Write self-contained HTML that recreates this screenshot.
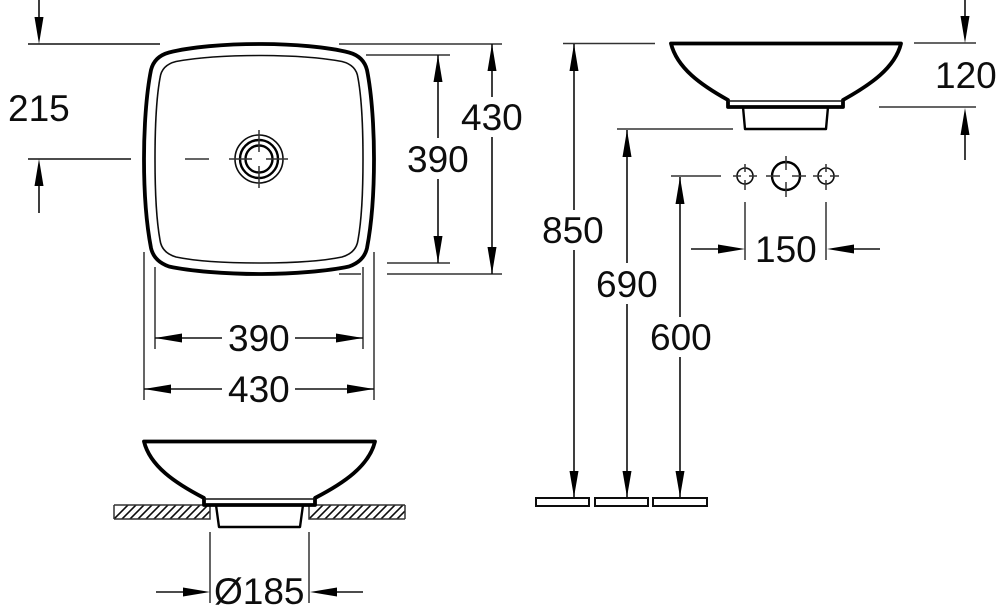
<!DOCTYPE html>
<html><head><meta charset="utf-8"><style>
html,body{margin:0;padding:0;background:#fff;width:1000px;height:615px;overflow:hidden}
svg{display:block}
text{font-family:"Liberation Sans",sans-serif;font-size:37px;fill:#111}
.t{fill:none;stroke:#111;stroke-width:1.6}
.g{fill:none;stroke:#333;stroke-width:1.5}
.k{fill:none;stroke:#000;stroke-width:2.4;stroke-linejoin:round}
.h{fill:none;stroke:#000;stroke-width:3.8;stroke-linejoin:round;stroke-linecap:round}
.a{fill:#000;stroke:none}
.w{fill:#fff;stroke:#111;stroke-width:2}
</style></head><body>
<svg width="1000" height="615" viewBox="0 0 1000 615" xmlns="http://www.w3.org/2000/svg">
<defs><clipPath id="c1"><rect x="114" y="505" width="96" height="14"/></clipPath><clipPath id="c2"><rect x="309" y="505" width="96" height="14"/></clipPath>
<filter id="b" x="0" y="0" width="100%" height="100%"><feGaussianBlur stdDeviation="0.35"/></filter></defs>
<g filter="url(#b)">
<!-- top view -->
<path class="h" d="M259 44C225 44 190 47 169 52.500C158 55.500 153 62 151 70C146 95 144 130 144 159C144 190 146 222 151 248C153 257 159 263 169 266.500C190 271 225 274 259 274C293 274 328 271 349 266.500C359 263 365 257 367 248C372 222 374 190 374 159C374 130 372 95 367 70C365 62 360 55.500 349 52.500C328 47 293 44 259 44Z"/>
<path class="t" d="M259 55.500C225 55.500 195 58 176 61.500C166 64 161 70 160 78C156 100 155 130 155 159C155 190 156 218 160 240C161 248 166 254 176 257C195 261 225 263 259 263C293 263 323 261 342 257C352 254 357 248 358 240C362 218 363 190 363 159C363 130 362 100 358 78C357 70 352 64 342 61.500C323 58 293 55.500 259 55.500Z"/>
<circle class="t" cx="259" cy="159" r="24"/>
<circle class="k" cx="259" cy="159" r="19" stroke-width="2.2"/>
<circle class="k" cx="259" cy="159" r="13.500" stroke-width="3"/>
<path class="g" d="M229 159H252M266 159H288M259 130V152M259 166V188M185 159H209"/>

<!-- 215 -->
<path class="t" d="M39 0V20M28 44H160M28 159H131M39 184V213"/>
<path class="a" d="M39 44L34.500 17H43.500ZM39 159L34.500 186H43.500Z"/>
<text x="8" y="121">215</text>

<!-- right of top view -->
<path class="g" d="M339 44H502M366 55H450M387 263H450M387 274H502M339 274H361"/>
<path class="t" d="M438 55V138M438 179V263M492 44V97M492 137V274"/>
<path class="a" d="M438 55L433.500 82H442.500ZM438 263L433.500 236H442.500ZM492 44L487.500 71H496.500ZM492 274L487.500 247H496.500Z"/>
<text x="461" y="130">430</text>
<text x="407" y="172">390</text>

<!-- below top view -->
<path class="g" d="M144 252V400M374 252V400M155 267V349M363 267V349"/>
<path class="t" d="M155 338H222M295 338H363M144 389H222M295 389H374"/>
<path class="a" d="M155 338L182 333.500V342.500ZM363 338L336 333.500V342.500ZM144 389L171 384.500V393.500ZM374 389L347 384.500V393.500Z"/>
<text x="228" y="351">390</text>
<text x="228" y="402">430</text>

<!-- front section -->
<g clip-path="url(#c1)"><path class="t" stroke-width="1.2" d="M104 529L134 499M112 529L142 499M120 529L150 499M128 529L158 499M136 529L166 499M144 529L174 499M152 529L182 499M160 529L190 499M168 529L198 499M176 529L206 499M184 529L214 499M192 529L222 499M200 529L230 499"/></g>
<g clip-path="url(#c2)"><path class="t" stroke-width="1.2" d="M299 529L329 499M307 529L337 499M315 529L345 499M323 529L353 499M331 529L361 499M339 529L369 499M347 529L377 499M355 529L385 499M363 529L393 499M371 529L401 499M379 529L409 499M387 529L417 499M395 529L425 499"/></g>
<path class="g" stroke-width="1.800" d="M114 505H206M114 519H210V505M405 505H313M405 519H309V505M114 505V519M405 505V519"/>
<path class="h" stroke-width="3" d="M144 441.500H375C369 466 344 483 315 498V505H204V498C175 483 150 466 144 441.500Z"/>
<path class="t" stroke-width="2" d="M204 499H315"/>
<path class="k" stroke-width="2.200" d="M216 505L219 527H300L303 505"/>
<path class="g" d="M210 532V603M309 532V603"/>
<path class="t" d="M156 592H184M336 592H363"/>
<path class="a" d="M210 592L183 587.500V596.500ZM310 592L337 587.500V596.500Z"/>
<text x="214" y="604">Ø185</text>

<!-- side view -->
<path class="g" d="M563 43.500H655M617 129H733M671 176H721"/>
<path class="h" stroke-width="3" d="M671 43.500H901C895 68 870 85 843 100V107H728V100C701 85 677 68 671 43.500Z"/>
<path class="t" stroke-width="2" d="M728 101H843"/>
<path class="k" stroke-width="2.200" d="M743 107L745 129H826L828 107"/>

<!-- 120 -->
<path class="g" d="M914 43H976M879 107H976"/>
<path class="t" d="M965 0V20M965 130V160"/>
<path class="a" d="M965 43L960.500 16H969.500ZM965 108L960.500 135H969.500Z"/>
<text x="935" y="88">120</text>

<!-- holes -->
<circle class="t" cx="745" cy="176" r="8"/>
<circle class="k" cx="786" cy="176" r="14" stroke-width="2.800"/>
<circle class="t" cx="826" cy="176" r="8"/>
<path class="g" d="M733 176H741M749 176H757M745 164V172M745 180V190M766 176H780M792 176H806M786 156V170M786 182V197M813 176H822M830 176H839M826 164V172M826 180V190"/>
<path class="g" d="M745 202V260M826 202V260"/>
<path class="t" d="M691 249H720M853 249H880"/>
<path class="a" d="M745 249L718 244.500V253.500ZM827 249L854 244.500V253.500Z"/>
<text x="755" y="262">150</text>

<!-- heights -->
<path class="t" d="M574 44V210M574 250V497M627 130V263M627 304V497M680 177V317M680 357V497"/>
<path class="a" d="M574 44L569.500 71H578.500ZM574 497L569.500 471H578.500ZM627 130L622.500 157H631.500ZM627 497L622.500 471H631.500ZM680 177L675.500 204H684.500ZM680 497L675.500 471H684.500Z"/>
<text x="542" y="243">850</text>
<text x="596" y="297">690</text>
<text x="650" y="350">600</text>
<rect class="w" x="536" y="498" width="53" height="8"/>
<rect class="w" x="595" y="498" width="53" height="8"/>
<rect class="w" x="653" y="498" width="54" height="8"/>
</g>
</svg>
</body></html>
